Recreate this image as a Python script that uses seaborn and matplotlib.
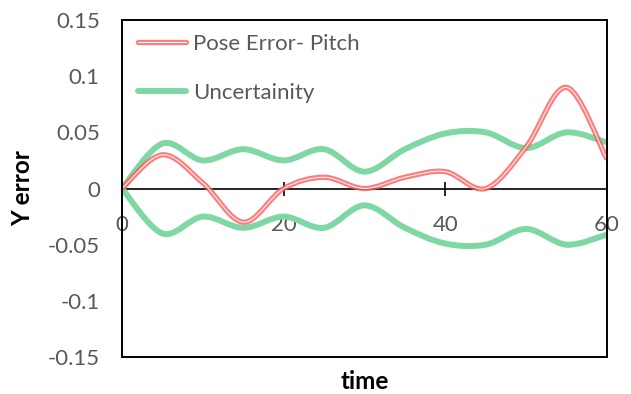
import numpy as np
import matplotlib
matplotlib.use("Agg")
import matplotlib.pyplot as plt
import seaborn as sns
from matplotlib.path import Path
from matplotlib.patches import PathPatch, Rectangle
from matplotlib.lines import Line2D

# data
time = [0, 5, 10, 15, 20, 25, 30, 35, 40, 45, 50, 55, 60]
pose_error_pitch = [0, 0.03, 0.005, -0.03, 0, 0.01, 0, 0.01, 0.015, 0, 0.037, 0.09, 0.026]
uncertainty = [0, 0.04, 0.025, 0.035, 0.025, 0.035, 0.015, 0.035, 0.049, 0.05, 0.036, 0.05, 0.041]

x_ticks = [0, 20, 40, 60]
y_ticks = [-0.15, -0.1, -0.05, 0, 0.05, 0.1, 0.15]
y_tick_labels = ["-0.15", "-0.1", "-0.05", "0", "0.05", "0.1", "0.15"]

sns.set_style("white")
plt.rcParams['font.family'] = ['Lato', 'DejaVu Sans']

RED = "#ff5a5a"
GREEN = "#7fd7a4"
GREY = "#595959"


def smooth_path(x, y):
    # bezier curve through the points, like excel "smoothed line"
    pts = np.column_stack([x, y]).astype(float)
    ext = np.vstack([pts[0], pts, pts[-1]])
    verts = [pts[0]]
    codes = [Path.MOVETO]
    for i in range(len(pts) - 1):
        p_prev, p0, p1, p_next = ext[i], ext[i + 1], ext[i + 2], ext[i + 3]
        verts += [p0 + (p1 - p_prev) / 6, p1 - (p_next - p0) / 6, p1]
        codes += [Path.CURVE4] * 3
    return Path(verts, codes)


fig = plt.figure(figsize=(6.31, 3.94), dpi=100)
ax = fig.add_axes([0.1933, 0.0939, 0.7686, 0.8553])

unc = np.array(uncertainty)
for sign in (1, -1):
    ax.add_patch(PathPatch(smooth_path(time, sign * unc), fill=False,
                           edgecolor=GREEN, lw=4.3, capstyle='butt', zorder=2))

err_path = smooth_path(time, pose_error_pitch)
ax.add_patch(PathPatch(err_path, fill=False, edgecolor=RED, alpha=0.8,
                       lw=3.8, capstyle='butt', zorder=3))
ax.add_patch(PathPatch(err_path, fill=False, edgecolor='white', alpha=0.9,
                       lw=0.8, capstyle='butt', zorder=4))

ax.set_xlim(0, 60)
ax.set_ylim(-0.15, 0.15)

# box around the plot area, x axis runs through zero
for side in ("left", "top", "right"):
    ax.spines[side].set_visible(False)
ax.spines["bottom"].set_position(("data", 0))
ax.spines["bottom"].set_color("black")
ax.spines["bottom"].set_linewidth(1.2)
ax.spines["bottom"].set_zorder(1)
ax.add_patch(Rectangle((0, 0), 1, 1, transform=ax.transAxes, fill=False,
                       edgecolor="black", lw=1.4, clip_on=False, zorder=5))

ax.set_xticks(x_ticks)
ax.tick_params(axis='x', bottom=True, direction='inout', length=10, width=1.2,
               color='black', labelcolor=GREY, labelsize=16, pad=14)
ax.set_yticks(y_ticks)
ax.set_yticklabels(y_tick_labels)
ax.tick_params(axis='y', left=False, length=0, labelcolor=GREY, labelsize=16, pad=16)

ax.set_ylabel("Y error", fontsize=17.5, fontweight='bold', color='black')
ax.yaxis.set_label_coords(-0.182, 0.5)
ax.text(0.5, -0.04, "time", transform=ax.transAxes, ha='center', va='top',
        fontsize=17.5, fontweight='bold', color='black')

red_handle = (Line2D([], [], color=RED, alpha=0.8, lw=3.8),
              Line2D([], [], color='white', lw=0.8))
green_handle = Line2D([], [], color=GREEN, lw=4.3)
ax.legend([red_handle, green_handle], ["Pose Error- Pitch", "Uncertainity"],
          loc='upper left', bbox_to_anchor=(0.0, 1.005), frameon=False,
          fontsize=16, labelcolor=GREY, handlelength=2.2, handletextpad=0.3,
          labelspacing=1.3, borderaxespad=0.3)

fig.savefig("out.png", dpi=100)
